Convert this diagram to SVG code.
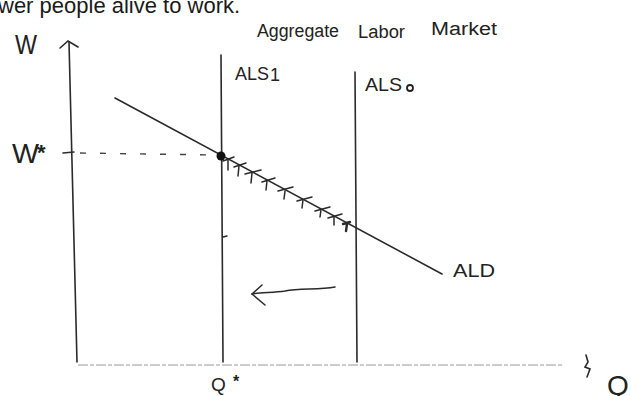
<svg xmlns="http://www.w3.org/2000/svg" width="631" height="396" viewBox="0 0 631 396">
<style>
.ln{stroke:#2a2a2a;stroke-width:1.6;fill:none;stroke-linecap:round}
.th{stroke:#2a2a2a;stroke-width:1.5;fill:none;stroke-linecap:round}
.hw{font-family:"Liberation Sans",Arial,sans-serif;fill:#222}
.pt{font-family:"Liberation Sans",Arial,sans-serif;fill:#1a1a1a;font-size:22px}
</style>
<rect width="631" height="396" fill="#fff"/>
<text class="pt" x="-2" y="13">wer people alive to work.</text>
<g id="title" class="hw" font-size="18" fill="#333">
<text x="257" y="37" textLength="82" lengthAdjust="spacingAndGlyphs">Aggregate</text>
<text x="358" y="38" textLength="47" lengthAdjust="spacingAndGlyphs">Labor</text>
<text x="431" y="35" textLength="66" lengthAdjust="spacingAndGlyphs">Market</text>
</g>
<g id="axes">
<path class="ln" d="M69 42 L77 362"/>
<path class="ln" d="M60 48 L68 41 L78 47"/>
<path d="M78 365 L562 365" stroke="#999" stroke-width="1.2" stroke-dasharray="10 2 4 2" fill="none"/>
<text class="hw" x="15" y="54" font-size="28" textLength="22" lengthAdjust="spacingAndGlyphs">W</text>
<text class="hw" x="12" y="163" font-size="28" textLength="27" lengthAdjust="spacingAndGlyphs">W</text>
<text class="hw" x="37" y="160" font-size="22" font-weight="bold">*</text>
<path class="ln" d="M63 153 L74 152" stroke-width="3"/>
<text class="hw" x="211" y="391" font-size="19">Q</text>
<text class="hw" x="233" y="387" font-size="16" font-weight="bold">*</text>
<path class="ln" d="M586 355 L588 362 L585 367 L590 369 L587 377" stroke-width="2.2"/>
<text class="hw" x="607" y="395" font-size="28">Q</text>
</g>
<g id="connectors">
<path d="M80 153 L215 155" stroke="#444" stroke-width="1.4" stroke-dasharray="6 14" fill="none"/>
<path class="th" d="M335 287 C318 290 300 288 285 291 C273 293 262 292 252 294"/>
<path class="th" d="M262 285 L252 294 L265 305"/>
</g>
<g id="ALD">
<path class="ln" d="M115 98 L442 274"/>
<g class="th">
<path d="M228 160 L228 170 M223 161 L234 157"/>
<path d="M239 166 L238 176 M234 167 L246 163"/>
<path d="M252 173 L251 183 M245 174 L261 170"/>
<path d="M267 181 L266 190 M262 182 L275 178"/>
<path d="M285 191 L284 199 M278 191 L293 187"/>
<path d="M303 200 L302 208 M297 201 L312 197"/>
<path d="M321 210 L320 217 M315 211 L330 207"/>
<path d="M334 217 L334 225 M328 218 L342 214"/>
<path d="M347 224 L346 231 M343 224 L350 222" stroke-width="2.4"/>
</g>
<text class="hw" x="453" y="277" font-size="19" textLength="42" lengthAdjust="spacingAndGlyphs">ALD</text>
</g>
<g id="ALS1">
<path class="ln" d="M221 55 L223 362"/>
<path class="th" d="M223 237 L227 236"/>
<circle cx="221" cy="156" r="4.5" fill="#111"/>
<text class="hw" x="235" y="80" font-size="19" textLength="34" lengthAdjust="spacingAndGlyphs">ALS</text>
<text class="hw" x="270" y="81" font-size="18">1</text>
</g>
<g id="ALS0">
<path class="ln" d="M355 72 L357 362"/>
<text class="hw" x="365" y="91" font-size="19" textLength="37" lengthAdjust="spacingAndGlyphs">ALS</text>
<circle cx="410" cy="88" r="3" fill="none" stroke="#222" stroke-width="1.8"/>
</g>
</svg>
